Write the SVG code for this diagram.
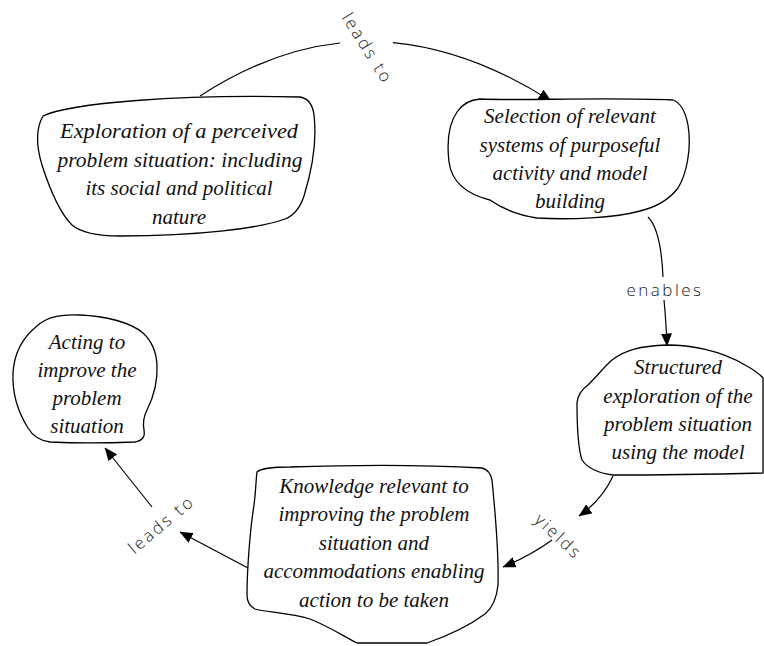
<svg xmlns="http://www.w3.org/2000/svg" width="764" height="646" viewBox="0 0 764 646">
  <style>
    .node path { fill: #ffffff; stroke: #000000; stroke-width: 1.3; stroke-linejoin: round; }
    .node text { font-family: "Liberation Serif", "DejaVu Serif", serif; font-style: italic; font-size: 21px; fill: #111111; text-anchor: middle; }
    .edge { fill: none; stroke: #000000; stroke-width: 1.2; }
    .label { font-family: "Open Sans", "DejaVu Sans", sans-serif; font-weight: 300; font-size: 17px; fill: #222222; text-anchor: middle; dominant-baseline: central; letter-spacing: 2.5px; }
  </style>
  <defs>
    <marker id="arrow" viewBox="0 0 13 11" markerWidth="13" markerHeight="11" refX="12.5" refY="5.5" orient="auto" markerUnits="userSpaceOnUse">
      <path d="M0,0 L13,5.5 L0,11 Z" fill="#000000"/>
    </marker>
  </defs>

  <rect width="764" height="646" fill="#ffffff"/>

  <!-- connectors -->
  <g id="connectors">
    <!-- exploration -> selection -->
    <path class="edge" d="M200,96 Q269.7,50.5 340,43"/>
    <path class="edge" d="M393,42.6 Q471,50 551,101" marker-end="url(#arrow)"/>
    <text class="label" transform="translate(368,48) rotate(58)">leads to</text>

    <!-- selection -> structured exploration -->
    <path class="edge" d="M648,217 Q661,230 663,277"/>
    <path class="edge" d="M664,300 Q666,320 667,346" marker-end="url(#arrow)"/>
    <text class="label" x="665" y="289">enables</text>

    <!-- structured exploration -> knowledge -->
    <path class="edge" d="M613,476 Q602,500 579,516" marker-end="url(#arrow)"/>
    <path class="edge" d="M552,540 Q530,556 503,567" marker-end="url(#arrow)"/>
    <text class="label" transform="translate(559,536) rotate(43)">yields</text>

    <!-- knowledge -> acting -->
    <path class="edge" d="M248,568 L180,532" marker-end="url(#arrow)"/>
    <path class="edge" d="M152,507 L105,448" marker-end="url(#arrow)"/>
    <text class="label" transform="translate(161,524) rotate(-40)">leads to</text>
  </g>

  <!-- nodes -->
  <g id="node-exploration" class="node">
    <path d="M43,116 C70,103 180,94 300,97 Q312,99 314,115 C317,140 312,170 304,196 Q298,214 285,219 C260,228 200,236 120,236 Q85,236 72,225 C60,213 50,190 42,165 C36,145 36,128 43,116 Z"/>
    <text x="179" y="138" textLength="238" lengthAdjust="spacingAndGlyphs">Exploration of a perceived</text>
    <text x="180" y="167" textLength="245" lengthAdjust="spacingAndGlyphs">problem situation: including</text>
    <text x="179" y="195">its social and political</text>
    <text x="179" y="224">nature</text>
  </g>

  <g id="node-selection" class="node">
    <path d="M457,112 Q465,100 480,99 C520,101 600,97 673,100 Q684,104 688,125 C692,150 686,175 678,188 Q665,205 640,211 C615,218 570,220 537,218 Q510,214 490,200 C470,195 452,185 449,162 C447,145 448,125 457,112 Z"/>
    <text x="570" y="123">Selection of relevant</text>
    <text x="570" y="152">systems of purposeful</text>
    <text x="570" y="180">activity and model</text>
    <text x="570" y="208">building</text>
  </g>

  <g id="node-structured" class="node">
    <path d="M612,360 C625,350 640,346 667,345 C690,345 720,350 745,365 Q758,372 763,378 L763,473 C720,474 650,475 613,475 Q590,472 582,460 C577,445 577,420 577,403 Q578,392 588,385 C598,375 605,366 612,360 Z"/>
    <text x="678" y="374">Structured</text>
    <text x="678" y="403">exploration of the</text>
    <text x="678" y="431">problem situation</text>
    <text x="678" y="459">using the model</text>
  </g>

  <g id="node-knowledge" class="node">
    <path d="M257,472 Q262,467 290,467 C350,465 430,465 482,468 Q490,470 492,480 C495,510 499,550 498,585 Q496,605 485,614 C470,625 450,635 427,643 L357,643 C345,637 330,627 310,619 C290,613 265,612 255,609 Q247,605 247,595 C247,570 250,530 254,505 C256,490 256,478 257,472 Z"/>
    <text x="374" y="493">Knowledge relevant to</text>
    <text x="374" y="521">improving the problem</text>
    <text x="374" y="550">situation and</text>
    <text x="374" y="578">accommodations enabling</text>
    <text x="374" y="607">action to be taken</text>
  </g>

  <g id="node-acting" class="node">
    <path d="M37,326 C45,318 60,314 80,315 C105,316 130,322 143,333 Q156,345 157,365 C158,385 152,400 147,410 Q142,420 144,430 Q146,440 135,442 C110,443 70,443 50,442 Q35,440 28,428 C18,412 12,395 13,373 C14,355 22,338 37,326 Z"/>
    <text x="87" y="349">Acting to</text>
    <text x="87" y="377">improve the</text>
    <text x="87" y="405">problem</text>
    <text x="87" y="433">situation</text>
  </g>
</svg>
